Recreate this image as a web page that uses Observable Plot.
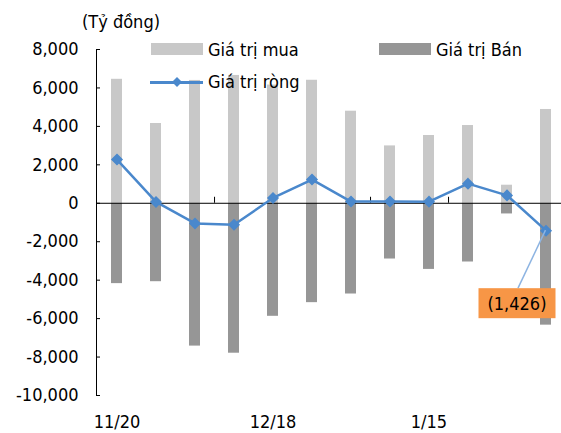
<!DOCTYPE html>
<html><head><meta charset="utf-8">
<script src="https://cdn.jsdelivr.net/npm/d3@7"></script>
<script src="https://cdn.jsdelivr.net/npm/@observablehq/plot@0.6"></script>
<style>
body{margin:0;background:#fff;}
#wrap{position:relative;width:561px;height:433px;overflow:hidden;font-family:"DejaVu Sans Condensed","DejaVu Sans",sans-serif;font-size:18px;color:#000;}
#wrap svg{position:absolute;left:0;top:0;}
.lab{position:absolute;line-height:20px;white-space:nowrap;}
.sw{position:absolute;}
</style></head><body><div id="wrap"></div>
<script>
const dates = ["11/20","11/27","12/4","12/11","12/18","12/25","1/1","1/8","1/15","1/22","1/29","2/5"];
const buyValues = [6450, 4150, 6390, 6650, 6150, 6400, 4790, 2985, 3525, 4045, 940, 4880];
const sellValues = [-4180, -4080, -7430, -7800, -5880, -5170, -4720, -2900, -3440, -3055, -555, -6340];
const netValues = [2275, 70, -1050, -1120, 276, 1234, 90, 90, 85, 1020, 410, -1426];
const xTickLabels = ["11/20","12/18","1/15"];
const xBoundaryTicks = ["12/4","1/1","1/15"];
const yTicks = [-10000,-8000,-6000,-4000,-2000,0,2000,4000,6000,8000];
const seriesNames = ["Giá trị mua","Giá trị Bán","Giá trị ròng"];
const unitLabel = "(Tỷ đồng)";
const calloutText = "(1,426)";

const data = dates.map((d,i)=>({date:d, buy:buyValues[i], sell:sellValues[i], net:netValues[i]}));
const fmt = v => (v<0?"-":"") + d3.format(",")(Math.abs(v));

const W = 561, H = 433, ML = 96, MR = -4, MT = 49, MB = 38;
const step = (W - MR - ML) / dates.length;
const colBuy = "#C8C8C8", colSell = "#969696", colNet = "#4A88CC";

const chart = Plot.plot({
  width: W, height: H,
  marginLeft: ML, marginRight: MR, marginTop: MT, marginBottom: MB,
  style: {fontFamily: '"DejaVu Sans Condensed","DejaVu Sans",sans-serif', fontSize: "18px", color: "#000", background: "transparent", overflow: "visible"},
  x: {domain: dates, paddingInner: 0.72, paddingOuter: 0.36, axis: null, label: null},
  y: {domain: [-10000, 8000], axis: null, label: null},
  marks: [
    Plot.barY(data, {x: "date", y: "buy", fill: colBuy}),
    Plot.barY(data, {x: "date", y: "sell", fill: colSell}),
    Plot.ruleY([0], {stroke: "#000", strokeWidth: 1}),
    Plot.frame({anchor: "left", stroke: "#000"}),
    Plot.tickY(yTicks, {y: d => d, stroke: "#000", insetRight: W - MR - ML - 4}),
    Plot.axisY({ticks: yTicks, tickSize: 0, tickPadding: 18, tickFormat: fmt, fontSize: 18, label: null}),
    Plot.axisX({ticks: xTickLabels, tickSize: 0, tickPadding: 20, fontSize: 18, label: null}),
    Plot.ruleX(xBoundaryTicks, {x: d => d, y1: () => 0, y2: () => 0, insetBottom: 6, dx: step/2, stroke: "#000"}),
    Plot.line(data, {x: "date", y: "net", stroke: colNet, strokeWidth: 2.5}),
    Plot.dot(data, {x: "date", y: "net", symbol: "diamond2", r: 4.5, fill: colNet, stroke: colNet})
  ]
});

const wrap = document.getElementById("wrap");
wrap.appendChild(chart);

// callout for last net value
const xs = chart.scale("x"), ys = chart.scale("y");
const last = data[data.length-1];
const px = xs.apply(last.date) + xs.bandwidth/2;
const py = ys.apply(last.net);
const svg = d3.select(chart);
const boxW = 77, boxH = 30;
const bx = px - 67, by = py + 58;
svg.append("line").attr("x1", bx + boxW/2 + 1).attr("y1", by).attr("x2", px).attr("y2", py)
  .attr("stroke", "#8DB4E2").attr("stroke-width", 1.5);
svg.append("rect").attr("x", bx).attr("y", by).attr("width", boxW).attr("height", boxH).attr("fill", "#F79646");
svg.append("text").attr("x", bx + boxW/2).attr("y", by + boxH/2).attr("text-anchor", "middle")
  .attr("dominant-baseline", "central").attr("font-size", 18).attr("fill", "#000").text(calloutText);

function addLab(text, left, cy){
  const d = document.createElement("div"); d.className = "lab"; d.textContent = text;
  d.style.left = left + "px"; d.style.top = (cy - 10) + "px"; wrap.appendChild(d);
}
function addSw(left, top, w, h, color){
  const d = document.createElement("div"); d.className = "sw";
  Object.assign(d.style, {left: left+"px", top: top+"px", width: w+"px", height: h+"px", background: color});
  wrap.appendChild(d);
}
addLab(unitLabel, 82, 22);
addSw(151, 43, 52, 12, colBuy); addLab(seriesNames[0], 208, 50);
addSw(379, 43, 52, 12, colSell); addLab(seriesNames[1], 436, 50);
addSw(150, 81, 53, 2.5, colNet);
const dm = document.createElementNS("http://www.w3.org/2000/svg","svg");
dm.setAttribute("width", 14); dm.setAttribute("height", 14);
dm.style.position = "absolute"; dm.style.left = "170px"; dm.style.top = "75px";
dm.innerHTML = '<path d="M7,2L12,7L7,12L2,7Z" fill="'+colNet+'"/>';
wrap.appendChild(dm);
addLab(seriesNames[2], 208, 82);
</script></body></html>
